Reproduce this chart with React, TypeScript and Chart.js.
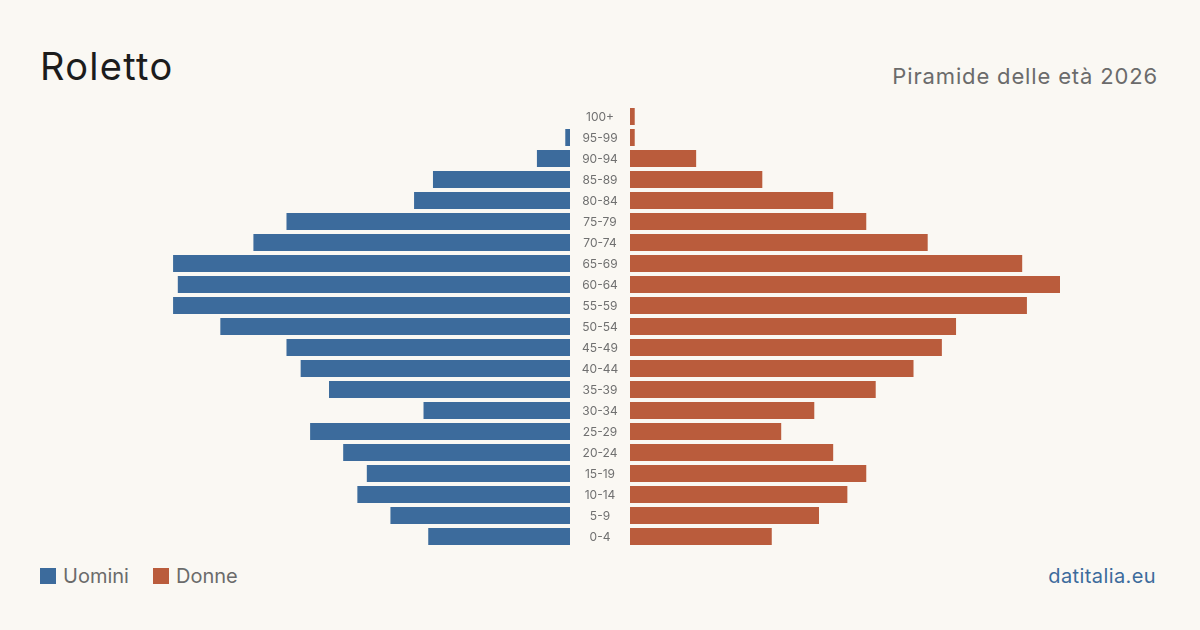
import React, { useEffect, useRef } from "react";
import { Chart, registerables } from "chart.js";

Chart.register(...registerables);

const ageGroups = [
  "100+", "95-99", "90-94", "85-89", "80-84", "75-79", "70-74", "65-69", "60-64", "55-59",
  "50-54", "45-49", "40-44", "35-39", "30-34", "25-29", "20-24", "15-19", "10-14", "5-9", "0-4",
];
const maleValues = [0, 1, 7, 29, 33, 60, 67, 84, 83, 84, 74, 60, 57, 51, 31, 55, 48, 43, 45, 38, 30];
const femaleValues = [1, 1, 14, 28, 43, 50, 63, 83, 91, 84, 69, 66, 60, 52, 39, 32, 43, 50, 46, 40, 30];

const BLUE = "#3c6b9c";
const ORANGE = "#ba5c3c";
const BG = "#faf8f3";
const FONT = "Inter, 'Noto Sans', sans-serif";

export default function App() {
  const leftRef = useRef<HTMLCanvasElement | null>(null);
  const rightRef = useRef<HTMLCanvasElement | null>(null);

  useEffect(() => {
    const maxVal = Math.max(...maleValues, ...femaleValues);
    const meas = document.createElement("canvas").getContext("2d")!;
    meas.font = "12px " + FONT;
    const widest = Math.max(...ageGroups.map((l) => meas.measureText(l).width));
    const labelPad = 30 - widest / 2;

    const common = {
      animation: false as const,
      responsive: false,
      maintainAspectRatio: false,
      indexAxis: "y" as const,
      layout: { padding: 0 },
      plugins: { legend: { display: false }, tooltip: { enabled: false } },
    };

    const left = new Chart(leftRef.current!, {
      type: "bar",
      data: {
        labels: ageGroups,
        datasets: [
          {
            label: "Uomini",
            data: maleValues,
            backgroundColor: BLUE,
            barPercentage: 0.81,
            categoryPercentage: 1,
          },
        ],
      },
      options: {
        ...common,
        scales: {
          x: { display: false, reverse: true, min: 0, max: maxVal },
          y: {
            position: "right",
            grid: { display: false, drawTicks: false },
            border: { display: false },
            ticks: {
              crossAlign: "center",
              padding: labelPad,
              labelOffset: 1,
              color: "#707070",
              font: { family: FONT, size: 12 },
            },
            afterFit: (scale: any) => {
              scale.width = 60;
              scale.paddingTop = 0;
              scale.paddingBottom = 0;
            },
          },
        },
      },
    } as any);

    const right = new Chart(rightRef.current!, {
      type: "bar",
      data: {
        labels: ageGroups,
        datasets: [
          {
            label: "Donne",
            data: femaleValues,
            backgroundColor: ORANGE,
            barPercentage: 0.81,
            categoryPercentage: 1,
          },
        ],
      },
      options: {
        ...common,
        scales: {
          x: { display: false, min: 0, max: maxVal },
          y: { display: false },
        },
      },
    } as any);

    return () => {
      left.destroy();
      right.destroy();
    };
  }, []);

  const textBase: React.CSSProperties = {
    position: "absolute",
    fontFamily: FONT,
    lineHeight: 1,
    whiteSpace: "nowrap",
  };

  return (
    <div
      style={{
        position: "absolute",
        left: 0,
        top: 0,
        width: 1200,
        height: 630,
        background: BG,
        overflow: "hidden",
      }}
    >
      <div style={{ ...textBase, left: 40, top: 47, fontSize: 38, letterSpacing: 1.3, color: "#1c1c1c" }}>
        Roletto
      </div>
      <div style={{ ...textBase, right: 42, top: 65, fontSize: 22, letterSpacing: 0.85, color: "#6b6b6b" }}>
        Piramide delle età 2026
      </div>

      <canvas
        ref={leftRef}
        width={490}
        height={441}
        style={{ position: "absolute", left: 140, top: 106, width: 490, height: 441 }}
      />
      <canvas
        ref={rightRef}
        width={430}
        height={441}
        style={{ position: "absolute", left: 630, top: 106, width: 430, height: 441 }}
      />

      <div style={{ position: "absolute", left: 40, top: 568, width: 16, height: 16, background: BLUE }} />
      <div style={{ ...textBase, left: 63, top: 566, fontSize: 20, color: "#6b6b6b" }}>Uomini</div>
      <div style={{ position: "absolute", left: 153, top: 568, width: 16, height: 16, background: ORANGE }} />
      <div style={{ ...textBase, left: 176, top: 566, fontSize: 20, color: "#6b6b6b" }}>Donne</div>

      <div style={{ ...textBase, right: 44, top: 566, fontSize: 20, letterSpacing: 0.4, color: BLUE }}>
        datitalia.eu
      </div>
    </div>
  );
}
